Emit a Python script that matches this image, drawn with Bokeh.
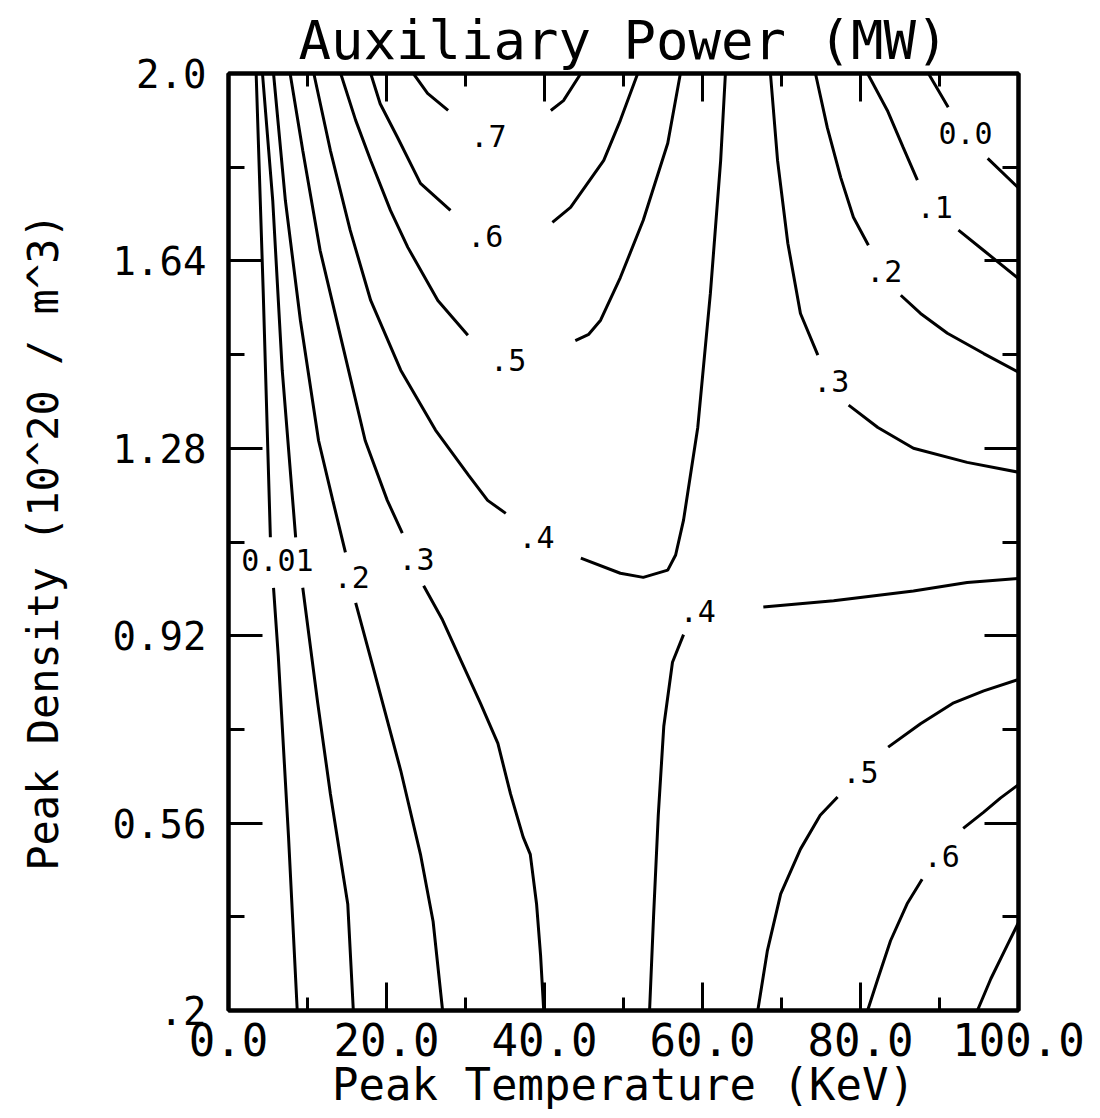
from bokeh.plotting import figure
from bokeh.models import Range1d, LinearAxis, FixedTicker
from bokeh.core.properties import value
from bokeh.embed import file_html
from bokeh.resources import INLINE

nan = float("nan")

# ---- axes ----
x_ticks = [0, 20, 40, 60, 80, 100]
x_tick_labels = ["0.0", "20.0", "40.0", "60.0", "80.0", "100.0"]
x_minor = [10, 30, 50, 70, 90]
y_ticks = [0.2, 0.56, 0.92, 1.28, 1.64, 2.0]
y_tick_labels = [".2", "0.56", "0.92", "1.28", "1.64", "2.0"]
y_minor = [0.38, 0.74, 1.10, 1.46, 1.82]

# ---- contour lines: peak temperature (keV) / peak density (1e20 m^-3); nan = gap for a label ----
c00_left_T = [3.5, 4.4, 5.3, nan, 5.7, 6.3, 7.6, 8.7]
c00_left_n = [2.0, 1.578, 1.109, nan, 1.012, 0.881, 0.533, 0.2]
c01_left_T = [4.3, 5.6, 6.8, 8.5, nan, 9.4, 11.3, 12.9, 15.1, 15.8]
c01_left_n = [2.0, 1.756, 1.43, 1.109, nan, 1.012, 0.79, 0.616, 0.404, 0.2]
c02_left_T = [5.7, 7.2, 9.1, 11.4, 13.2, 14.8, nan, 16.1, 18.4, 21.8, 24.3, 25.9, 27.1]
c02_left_n = [2.0, 1.756, 1.526, 1.295, 1.18, 1.08, nan, 0.983, 0.854, 0.661, 0.50, 0.371, 0.2]
c03_left_T = [7.8, 9.4, 11.6, 14.6, 17.3, 20.1, 22.0, nan, 24.7, 27.1, 29.4, 31.9, 34.1, 35.7, 37.3, 38.2, 39.0, 39.5, 39.9]
c03_left_n = [2.0, 1.852, 1.66, 1.468, 1.295, 1.18, 1.117, nan, 1.016, 0.95, 0.873, 0.79, 0.713, 0.616, 0.533, 0.50, 0.404, 0.307, 0.2]
c04_upper_T = [10.8, 12.9, 15.4, 18.0, 21.8, 26.2, 30.4, 32.8, 35.1, nan,
               44.6, 49.6, 52.5, 55.6, 56.6, 57.6, 59.4, 61.0, 62.3, 62.9]
c04_upper_n = [2.0, 1.852, 1.699, 1.564, 1.43, 1.315, 1.228, 1.18, 1.155, nan,
               1.069, 1.04, 1.032, 1.046, 1.075, 1.142, 1.32, 1.578, 1.833, 2.0]
c05_upper_T = [14.2, 16.1, 18.0, 20.5, 22.7, 26.5, 30.3, nan, 43.9, 45.6, 47.1, 49.6, 52.5, 55.6, 57.2]
c05_upper_n = [2.0, 1.91, 1.833, 1.737, 1.666, 1.564, 1.497, nan, 1.487, 1.499, 1.526, 1.608, 1.718, 1.866, 2.0]
c06_upper_T = [18.0, 19.2, 21.4, 24.3, 28.1, nan, 41.0, 43.3, 47.5, 49.6, 51.8]
c06_upper_n = [2.0, 1.942, 1.877, 1.789, 1.737, nan, 1.714, 1.743, 1.833, 1.91, 2.0]
c07_upper_T = [23.4, 25.2, 27.8, nan, 40.8, 42.4, 44.6]
c07_upper_n = [2.0, 1.962, 1.929, nan, 1.929, 1.948, 2.0]
c04_lower_T = [53.3, 53.8, 54.4, 55.1, 56.2, 57.6, nan, 67.7, 76.6, 86.7, 93.5, 100.0]
c04_lower_n = [0.2, 0.379, 0.575, 0.746, 0.869, 0.922, nan, 0.975, 0.987, 1.006, 1.022, 1.03]
c03_right_T = [68.6, 69.5, 70.8, 72.4, 74.6, nan, 78.5, 82.2, 86.7, 93.5, 100.0]
c03_right_n = [2.0, 1.833, 1.674, 1.539, 1.459, nan, 1.363, 1.32, 1.28, 1.253, 1.234]
c02_right_T = [74.3, 75.8, 77.5, 79.1, 81.0, nan, 85.1, 87.6, 91.0, 95.6, 100.0]
c02_right_n = [2.0, 1.896, 1.8, 1.724, 1.67, nan, 1.574, 1.539, 1.501, 1.462, 1.426]
c01_right_T = [80.9, 83.4, 85.4, 87.2, nan, 92.4, 95.6, 100.0]
c01_right_n = [2.0, 1.929, 1.858, 1.795, nan, 1.699, 1.66, 1.606]
c00_right_T = [88.6, 91.1, nan, 96.1, 100.0]
c00_right_n = [2.0, 1.935, nan, 1.837, 1.78]
c05_lower_T = [67.0, 68.2, 69.9, 72.4, 74.9, 77.1, nan, 83.5, 87.6, 91.8, 95.6, 100.0]
c05_lower_n = [0.2, 0.314, 0.424, 0.51, 0.575, 0.61, nan, 0.706, 0.751, 0.791, 0.814, 0.836]
c06_lower_T = [80.9, 82.2, 83.8, 85.9, 87.8, nan, 93.0, 95.6, 97.7, 100.0]
c06_lower_n = [0.2, 0.261, 0.334, 0.405, 0.452, nan, 0.55, 0.581, 0.608, 0.634]
c07_lower_T = [94.8, 96.5, 98.6, 100.0]
c07_lower_n = [0.2, 0.261, 0.326, 0.369]

# ---- contour labels ----
label_text = [".7", ".6", ".5", ".4", "0.01", ".2", ".3", ".4", "0.0", ".1", ".2", ".3", ".5", ".6"]
label_T = [32.9, 32.5, 35.4, 39.0, 6.2, 15.6, 23.8, 59.4, 93.3, 89.4, 83.0, 76.3, 80.0, 90.3]
label_n = [1.879, 1.687, 1.449, 1.109, 1.065, 1.032, 1.067, 0.967, 1.885, 1.743, 1.62, 1.409, 0.659, 0.497]

title_text = "Auxiliary Power (MW)"
x_title = "Peak Temperature (KeV)"
y_title = "Peak Density (10^20 / m^3)"

FONT = "DejaVu Sans Mono"

p = figure(width=1100, height=1118,
           x_range=Range1d(0, 100), y_range=Range1d(0.2, 2.0),
           output_backend="svg", toolbar_location=None,
           min_border_left=228, min_border_right=82,
           min_border_top=73, min_border_bottom=108)
p.grid.visible = False
p.background_fill_color = "white"
p.border_fill_color = "white"
p.outline_line_color = "black"
p.outline_line_width = 4

p.title.text = title_text
p.title.align = "center"
p.title.vertical_align = "top"
p.title.standoff = 0
p.title.text_font = FONT
p.title.text_font_size = "54px"
p.title.text_font_style = "normal"
p.title.text_color = "black"

ra = LinearAxis()
p.add_layout(ra, "right")
ta = LinearAxis()
p.add_layout(ta, "above")


def style(ax, ticks, minor, labels, major_len, minor_len, font_size, standoff, show):
    ax.ticker = FixedTicker(ticks=ticks, minor_ticks=minor)
    ax.major_label_overrides = {t: l for t, l in zip(ticks, labels)}
    ax.axis_line_color = "black"
    ax.axis_line_width = 4
    ax.major_tick_in = major_len
    ax.major_tick_out = 0
    ax.minor_tick_in = minor_len
    ax.minor_tick_out = 0
    ax.major_tick_line_width = 3
    ax.minor_tick_line_width = 3
    ax.major_tick_line_color = "black"
    ax.minor_tick_line_color = "black"
    ax.major_label_text_font = FONT
    ax.major_label_text_color = "black"
    ax.major_label_standoff = standoff
    ax.major_label_orientation = "horizontal"
    if show:
        ax.major_label_text_font_size = font_size
    else:
        ax.major_label_text_font_size = "0px"
        ax.major_label_text_alpha = 0


bottom = p.below[0]
left = p.left[0]
style(bottom, x_ticks, x_minor, x_tick_labels, 28, 13, "44px", 12, True)
style(ta, x_ticks, x_minor, x_tick_labels, 28, 13, "44px", 0, False)
style(left, y_ticks, y_minor, y_tick_labels, 34, 16, "39px", 22, True)
style(ra, y_ticks, y_minor, y_tick_labels, 34, 16, "39px", 0, False)

bottom.axis_label = x_title
bottom.axis_label_text_font = FONT
bottom.axis_label_text_font_size = "44px"
bottom.axis_label_text_font_style = "normal"
bottom.axis_label_text_color = "black"
bottom.axis_label_standoff = 0

left.axis_label = y_title
left.axis_label_text_font = FONT
left.axis_label_text_font_size = "42px"
left.axis_label_text_font_style = "normal"
left.axis_label_text_color = "black"
left.axis_label_standoff = 42

series = [
    (c00_left_T, c00_left_n), (c01_left_T, c01_left_n), (c02_left_T, c02_left_n),
    (c03_left_T, c03_left_n), (c04_upper_T, c04_upper_n), (c05_upper_T, c05_upper_n),
    (c06_upper_T, c06_upper_n), (c07_upper_T, c07_upper_n), (c04_lower_T, c04_lower_n),
    (c03_right_T, c03_right_n), (c02_right_T, c02_right_n), (c01_right_T, c01_right_n),
    (c00_right_T, c00_right_n), (c05_lower_T, c05_lower_n), (c06_lower_T, c06_lower_n),
    (c07_lower_T, c07_lower_n),
]
for xs, ys in series:
    p.line(xs, ys, line_color="black", line_width=3)

p.text(x=label_T, y=label_n, text=label_text, text_font=value(FONT),
       text_font_size=value("30px"), text_align="center", text_baseline="middle",
       text_color="black")

open("out.html", "w").write(file_html(p, INLINE))
